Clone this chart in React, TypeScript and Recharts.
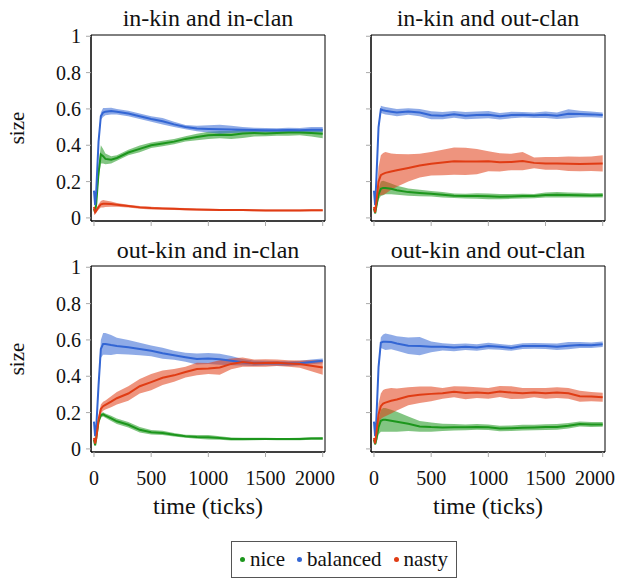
import React from 'react'
import { ComposedChart, Line, Area, XAxis, YAxis, ReferenceArea } from 'recharts'

// time points (ticks)
const T = [0, 10, 20, 40, 60, 80, 100, 150, 200, 300, 400, 500, 600, 700, 800, 900, 1000, 1100, 1200, 1300, 1400, 1500, 1600, 1700, 1800, 1900, 2000]

const xTicks = [0, 500, 1000, 1500, 2000]
const yTicks = [0, 0.2, 0.4, 0.6, 0.8, 1]
const xDomain = [-26, 2020]
const yDomain = [-0.017, 1.007]

const series = ['nice', 'balanced', 'nasty']
const colors: Record<string, string> = { nice: '#1c961c', balanced: '#3366d4', nasty: '#e03c14' }

// in-kin and in-clan
const p1Nice = [0.05, 0.03, 0.08, 0.25, 0.35, 0.34, 0.325, 0.32, 0.33, 0.36, 0.38, 0.4, 0.41, 0.42, 0.435, 0.445, 0.455, 0.458, 0.456, 0.465, 0.468, 0.465, 0.468, 0.47, 0.47, 0.468, 0.464]
const p1NiceS = [0.01, 0.005, 0.02, 0.04, 0.05, 0.04, 0.03, 0.02, 0.015, 0.015, 0.018, 0.015, 0.015, 0.015, 0.015, 0.018, 0.02, 0.02, 0.022, 0.025, 0.02, 0.015, 0.015, 0.018, 0.015, 0.02, 0.025]
const p1Bal = [0.15, 0.07, 0.15, 0.42, 0.56, 0.58, 0.585, 0.588, 0.585, 0.575, 0.56, 0.545, 0.532, 0.515, 0.5, 0.492, 0.49, 0.488, 0.487, 0.485, 0.484, 0.483, 0.482, 0.484, 0.483, 0.486, 0.486]
const p1BalS = [0.005, 0.005, 0.01, 0.02, 0.02, 0.025, 0.02, 0.018, 0.015, 0.015, 0.015, 0.015, 0.018, 0.015, 0.012, 0.015, 0.02, 0.025, 0.02, 0.015, 0.012, 0.012, 0.012, 0.012, 0.012, 0.014, 0.015]
const p1Nas = [0.06, 0.03, 0.04, 0.06, 0.075, 0.078, 0.078, 0.076, 0.072, 0.065, 0.058, 0.054, 0.052, 0.05, 0.048, 0.046, 0.045, 0.044, 0.043, 0.043, 0.042, 0.041, 0.041, 0.041, 0.041, 0.042, 0.042]
const p1NasS = [0.01, 0.005, 0.01, 0.015, 0.018, 0.02, 0.018, 0.015, 0.01, 0.008, 0.007, 0.007, 0.006, 0.006, 0.006, 0.005, 0.005, 0.005, 0.005, 0.005, 0.005, 0.005, 0.005, 0.005, 0.005, 0.005, 0.005]

// in-kin and out-clan
const p2Nice = [0.05, 0.025, 0.06, 0.13, 0.16, 0.165, 0.165, 0.16, 0.152, 0.142, 0.137, 0.133, 0.128, 0.122, 0.12, 0.121, 0.119, 0.117, 0.118, 0.12, 0.12, 0.126, 0.128, 0.126, 0.125, 0.124, 0.125]
const p2NiceS = [0.01, 0.005, 0.015, 0.03, 0.04, 0.04, 0.035, 0.03, 0.025, 0.02, 0.018, 0.015, 0.015, 0.013, 0.013, 0.015, 0.016, 0.014, 0.013, 0.013, 0.012, 0.014, 0.015, 0.014, 0.013, 0.012, 0.012]
const p2Bal = [0.15, 0.07, 0.2, 0.5, 0.598, 0.593, 0.59, 0.585, 0.58, 0.586, 0.58, 0.565, 0.563, 0.57, 0.563, 0.566, 0.568, 0.56, 0.566, 0.568, 0.565, 0.568, 0.563, 0.573, 0.572, 0.57, 0.566]
const p2BalS = [0.005, 0.005, 0.01, 0.02, 0.02, 0.02, 0.02, 0.02, 0.02, 0.018, 0.02, 0.022, 0.02, 0.018, 0.02, 0.02, 0.02, 0.018, 0.018, 0.015, 0.015, 0.018, 0.018, 0.025, 0.018, 0.016, 0.015]
const p2Nas = [0.06, 0.03, 0.08, 0.2, 0.235, 0.243, 0.248, 0.255, 0.262, 0.275, 0.288, 0.298, 0.305, 0.312, 0.311, 0.31, 0.312, 0.306, 0.308, 0.313, 0.303, 0.3, 0.3, 0.298, 0.297, 0.298, 0.3]
const p2NasS = [0.01, 0.005, 0.03, 0.08, 0.11, 0.115, 0.115, 0.1, 0.09, 0.075, 0.065, 0.065, 0.07, 0.075, 0.075, 0.07, 0.055, 0.05, 0.045, 0.05, 0.03, 0.035, 0.035, 0.04, 0.04, 0.04, 0.045]

// out-kin and in-clan
const p3Nice = [0.05, 0.02, 0.06, 0.15, 0.185, 0.19, 0.183, 0.168, 0.152, 0.133, 0.105, 0.092, 0.088, 0.078, 0.07, 0.066, 0.064, 0.06, 0.055, 0.054, 0.055, 0.055, 0.054, 0.054, 0.055, 0.057, 0.058]
const p3NiceS = [0.01, 0.005, 0.01, 0.012, 0.012, 0.012, 0.012, 0.014, 0.015, 0.015, 0.015, 0.012, 0.012, 0.01, 0.008, 0.01, 0.012, 0.01, 0.008, 0.007, 0.007, 0.006, 0.006, 0.006, 0.007, 0.007, 0.008]
const p3Bal = [0.15, 0.07, 0.12, 0.35, 0.55, 0.578, 0.578, 0.572, 0.567, 0.56, 0.55, 0.54, 0.527, 0.516, 0.505, 0.495, 0.498, 0.494, 0.486, 0.477, 0.472, 0.472, 0.471, 0.47, 0.472, 0.479, 0.485]
const p3BalS = [0.005, 0.005, 0.01, 0.03, 0.05, 0.06, 0.06, 0.055, 0.045, 0.04, 0.035, 0.03, 0.03, 0.025, 0.025, 0.03, 0.03, 0.03, 0.025, 0.018, 0.015, 0.013, 0.013, 0.013, 0.013, 0.013, 0.013]
const p3Nas = [0.06, 0.03, 0.06, 0.16, 0.22, 0.235, 0.242, 0.26, 0.279, 0.305, 0.345, 0.368, 0.392, 0.405, 0.423, 0.44, 0.443, 0.448, 0.468, 0.478, 0.472, 0.473, 0.474, 0.47, 0.467, 0.458, 0.448]
const p3NasS = [0.01, 0.005, 0.01, 0.02, 0.025, 0.025, 0.025, 0.03, 0.035, 0.04, 0.04, 0.045, 0.04, 0.035, 0.03, 0.035, 0.03, 0.04, 0.03, 0.025, 0.02, 0.02, 0.018, 0.018, 0.02, 0.03, 0.04]

// out-kin and out-clan
const p4Nice = [0.05, 0.025, 0.05, 0.12, 0.155, 0.16, 0.16, 0.155, 0.15, 0.138, 0.124, 0.12, 0.118, 0.119, 0.119, 0.121, 0.119, 0.112, 0.114, 0.117, 0.118, 0.12, 0.121, 0.128, 0.137, 0.134, 0.135]
const p4NiceS = [0.01, 0.005, 0.02, 0.04, 0.06, 0.065, 0.065, 0.06, 0.055, 0.04, 0.03, 0.025, 0.02, 0.018, 0.016, 0.016, 0.015, 0.015, 0.015, 0.016, 0.015, 0.016, 0.016, 0.015, 0.014, 0.014, 0.013]
const p4Bal = [0.15, 0.07, 0.15, 0.45, 0.585, 0.59, 0.59, 0.588, 0.58, 0.568, 0.566, 0.562, 0.562, 0.558, 0.562, 0.558, 0.566, 0.562, 0.556, 0.566, 0.567, 0.566, 0.562, 0.568, 0.572, 0.571, 0.576]
const p4BalS = [0.005, 0.005, 0.01, 0.02, 0.03, 0.04, 0.045, 0.04, 0.04, 0.045, 0.05, 0.03, 0.02, 0.02, 0.018, 0.018, 0.018, 0.016, 0.016, 0.016, 0.016, 0.016, 0.018, 0.02, 0.016, 0.015, 0.015]
const p4Nas = [0.06, 0.03, 0.08, 0.19, 0.235, 0.25, 0.255, 0.265, 0.272, 0.29, 0.298, 0.303, 0.306, 0.315, 0.308, 0.31, 0.306, 0.316, 0.31, 0.306, 0.31, 0.306, 0.31, 0.306, 0.29, 0.288, 0.284]
const p4NasS = [0.01, 0.005, 0.02, 0.06, 0.07, 0.075, 0.075, 0.07, 0.06, 0.05, 0.045, 0.04, 0.03, 0.03, 0.035, 0.03, 0.03, 0.03, 0.035, 0.03, 0.025, 0.03, 0.03, 0.03, 0.03, 0.025, 0.025]

function buildRows(nice: number[], niceS: number[], bal: number[], balS: number[], nas: number[], nasS: number[]) {
  return T.map((t, i) => ({
    t,
    nice: nice[i],
    niceBand: [nice[i] - niceS[i], nice[i] + niceS[i]],
    balanced: bal[i],
    balancedBand: [bal[i] - balS[i], bal[i] + balS[i]],
    nasty: nas[i],
    nastyBand: [nas[i] - nasS[i], nas[i] + nasS[i]],
  }))
}

const panels = [
  { title: 'in-kin and in-clan', rows: buildRows(p1Nice, p1NiceS, p1Bal, p1BalS, p1Nas, p1NasS), left: 0, top: 0, yLabels: true, xLabels: false },
  { title: 'in-kin and out-clan', rows: buildRows(p2Nice, p2NiceS, p2Bal, p2BalS, p2Nas, p2NasS), left: 280, top: 0, yLabels: false, xLabels: false },
  { title: 'out-kin and in-clan', rows: buildRows(p3Nice, p3NiceS, p3Bal, p3BalS, p3Nas, p3NasS), left: 0, top: 230.5, yLabels: true, xLabels: true },
  { title: 'out-kin and out-clan', rows: buildRows(p4Nice, p4NiceS, p4Bal, p4BalS, p4Nas, p4NasS), left: 280, top: 230.5, yLabels: false, xLabels: true },
]

const font = 'Liberation Serif'
const tickStyle = { fill: '#111', fontSize: 20, fontFamily: font }
const labelStyle = { fill: '#111', fontSize: 24, fontFamily: font }

function Panel({ title, rows, left, top, yLabels, xLabels }: any) {
  return (
    <div style={{ position: 'absolute', left, top, width: 335, height: 291 }}>
      <div style={{ position: 'absolute', left: 91, width: 234, top: top === 0 ? 6 : 7.5, textAlign: 'center', fontSize: 24, lineHeight: '24px', fontFamily: font, color: '#111' }}>
        {title}
      </div>
      <ComposedChart width={335} height={291} data={rows} margin={{ top: 35, right: 10, bottom: 0, left: 0 }}>
        <XAxis
          dataKey="t"
          type="number"
          domain={xDomain}
          ticks={xTicks}
          allowDataOverflow
          height={70}
          tick={tickStyle}
          tickFormatter={(v) => (xLabels ? String(v) : '')}
          tickSize={5}
          tickMargin={14}
          tickLine={{ stroke: '#aaa' }}
          axisLine={{ stroke: '#000' }}
          label={xLabels ? { value: 'time (ticks)', position: 'insideBottom', offset: 8, style: labelStyle } : undefined}
        />
        <YAxis
          type="number"
          domain={yDomain}
          ticks={yTicks}
          allowDataOverflow
          width={91}
          tick={tickStyle}
          tickFormatter={(v) => (yLabels ? String(v) : '')}
          tickSize={5}
          tickMargin={5}
          tickLine={{ stroke: '#aaa' }}
          axisLine={{ stroke: '#000' }}
          label={yLabels ? { value: 'size', angle: -90, position: 'insideLeft', offset: 17, style: { ...labelStyle, fontSize: 21, textAnchor: 'middle' } } : undefined}
        />
        {series.map((s) => (
          <Area
            key={s + 'Band'}
            dataKey={s + 'Band'}
            type="linear"
            stroke="none"
            fill={colors[s]}
            fillOpacity={0.55}
            isAnimationActive={false}
          />
        ))}
        {series.map((s) => (
          <Line
            key={s}
            dataKey={s}
            type="linear"
            stroke={colors[s]}
            strokeWidth={2}
            dot={false}
            isAnimationActive={false}
          />
        ))}
        <ReferenceArea x1={xDomain[0]} x2={xDomain[1]} y1={yDomain[0]} y2={yDomain[1]} fill="none" stroke="#000" strokeWidth={1} ifOverflow="visible" />
      </ComposedChart>
    </div>
  )
}

export default function App() {
  return (
    <div style={{ position: 'absolute', left: 0, top: 0, width: 637, height: 581, background: '#fff' }}>
      {panels.map((p) => (
        <Panel key={p.title} {...p} />
      ))}
      <div
        style={{
          position: 'absolute', left: 231, top: 541, width: 226, height: 37, boxSizing: 'border-box',
          border: '1px solid #555', display: 'flex', alignItems: 'center', paddingLeft: 8, gap: 12,
          fontFamily: font, fontSize: 21, color: '#111',
        }}
      >
        {series.map((s) => (
          <span key={s} style={{ display: 'flex', alignItems: 'center' }}>
            <span style={{ width: 5, height: 5, borderRadius: 3, background: colors[s], marginRight: 5 }} />
            {s}
          </span>
        ))}
      </div>
    </div>
  )
}
